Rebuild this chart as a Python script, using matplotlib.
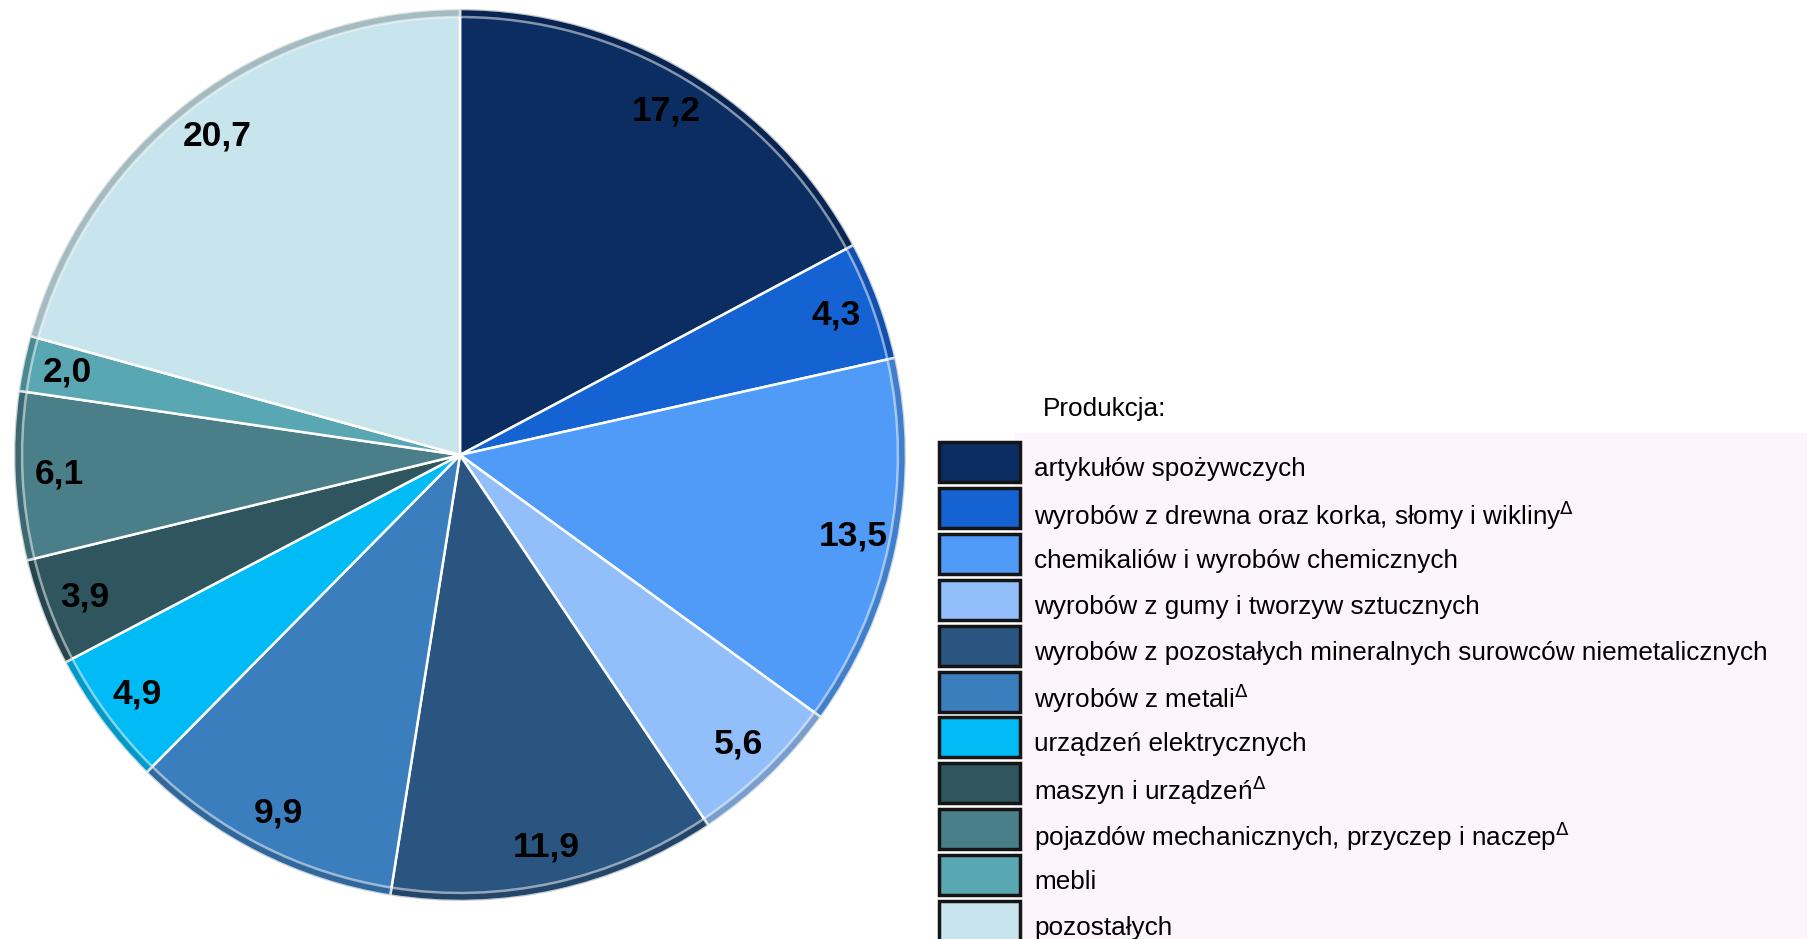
import numpy as np
import matplotlib
matplotlib.use("Agg")
import matplotlib.pyplot as plt
from matplotlib.patches import Rectangle
import matplotlib.colors as mcolors

plt.rcParams['font.family'] = ['Liberation Sans', 'DejaVu Sans']

categories = [
    "artykułów spożywczych",
    "wyrobów z drewna oraz korka, słomy i wikliny$^{\\Delta}$",
    "chemikaliów i wyrobów chemicznych",
    "wyrobów z gumy i tworzyw sztucznych",
    "wyrobów z pozostałych mineralnych surowców niemetalicznych",
    "wyrobów z metali$^{\\Delta}$",
    "urządzeń elektrycznych",
    "maszyn i urządzeń$^{\\Delta}$",
    "pojazdów mechanicznych, przyczep i naczep$^{\\Delta}$",
    "mebli",
    "pozostałych",
]
values = [17.2, 4.3, 13.5, 5.6, 11.9, 9.9, 4.9, 3.9, 6.1, 2.0, 20.7]
colors = ["#0B2D62", "#1562D2", "#4F9BF7", "#92BFFA", "#2A5580", "#3B7EBE",
          "#00BBF5", "#2F555E", "#4A7F8A", "#5AA7B4", "#C8E4EC"]
legend_title = "Produkcja:"

W, H = 1812, 939
fig = plt.figure(figsize=(W / 100, H / 100), dpi=100)

# pie axes
cx, cy, R = 460, 939 - 455, 446
ax = fig.add_axes([(cx - R) / W, (cy - R) / H, 2 * R / W, 2 * R / H])

wedges, _ = ax.pie(values, colors=colors, startangle=90, counterclock=False,
                   radius=1.0, wedgeprops=dict(edgecolor='white', linewidth=1.8))

# darker rim for a bevel-like effect
dark = [tuple(np.array(mcolors.to_rgb(c)) * 0.65) for c in colors]
ax.pie(values, colors=dark, startangle=90, counterclock=False, radius=1.0,
       wedgeprops=dict(width=0.018, edgecolor='white', linewidth=1.8, alpha=0.5))

ax.set_xlim(-1, 1)
ax.set_ylim(-1, 1)
ax.set_aspect('auto')
ax.axis('off')

for w, v in zip(wedges, values):
    ang = np.deg2rad((w.theta1 + w.theta2) / 2)
    r = 0.9
    ax.text(r * np.cos(ang), r * np.sin(ang), f"{v:.1f}".replace('.', ','),
            ha='center', va='center', fontsize=25.5, fontweight='bold', color='black')

# legend
lx0, ly0 = 1015, 433
fig.patches.append(Rectangle((lx0 / W, 0), (1807 - lx0) / W, (939 - ly0) / H,
                             transform=fig.transFigure, facecolor='#FDF5FC',
                             edgecolor='none', zorder=0))
fig.text(1043 / W, 1 - 409 / H, legend_title, fontsize=18.8, ha='left', va='center')

pitch = 45.9
for i, (lab, col) in enumerate(zip(categories, colors)):
    top = 442 + i * pitch
    fig.patches.append(Rectangle((939 / W, 1 - (top + 40) / H), 81 / W, 40 / H,
                                 transform=fig.transFigure, facecolor=col,
                                 edgecolor='#151515', linewidth=2.5, zorder=2))
    fig.text(1034 / W, 1 - (top + 27) / H, lab, fontsize=18.8, ha='left',
             va='center', color='black')

fig.savefig("out.png", dpi=100)
